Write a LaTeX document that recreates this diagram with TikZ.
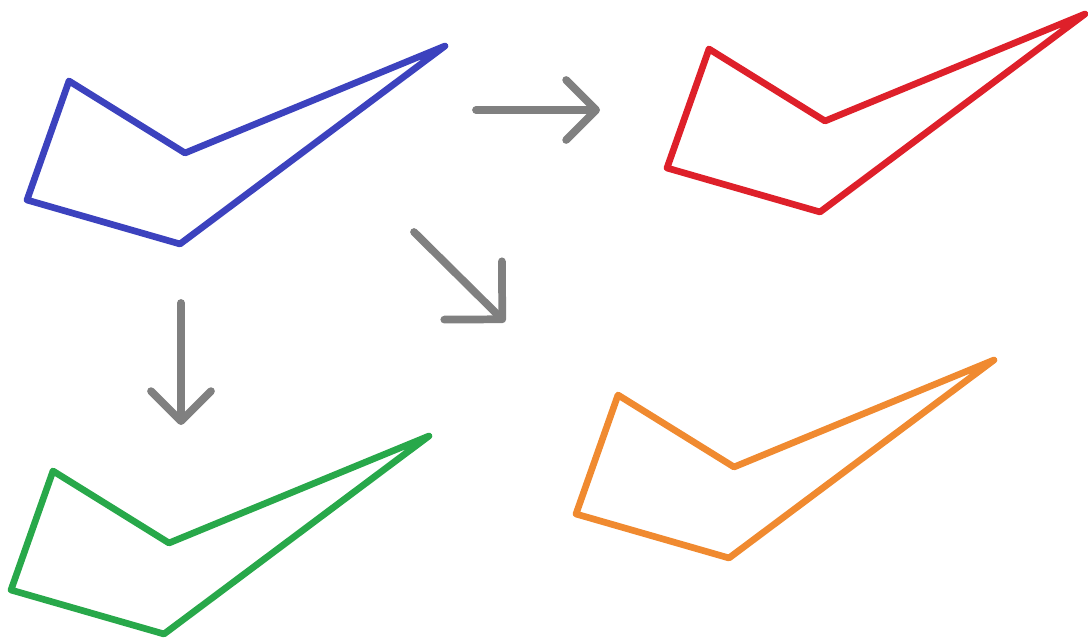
\documentclass[tikz,border=0pt]{standalone}
\usetikzlibrary{arrows.meta}
\definecolor{polyblue}{RGB}{60,66,190}
\definecolor{polyred}{RGB}{222,32,42}
\definecolor{polygreen}{RGB}{40,168,74}
\definecolor{polyorange}{RGB}{240,138,48}
\definecolor{movegray}{RGB}{128,128,128}
\tikzset{
  outline/.style={line width=3.8pt,line join=round,line cap=round},
  hook/.pic={\draw[outline,pic actions] (0,0) -- (116,72) -- (376,-35) -- (111,163) -- (-42,119) -- cycle;},
  move/.style={draw=movegray,line width=4.4pt,line cap=round,
    -{Straight Barb[length=0.6cm,width=1.2cm,round]}},
  bigmove/.style={move,-{Straight Barb[length=0.82cm,width=1.64cm,round]}}
}
\begin{document}
\begin{tikzpicture}[x=0.02cm,y=-0.02cm]
  \useasboundingbox (0,0) rectangle (1088,638);
  % the four copies
  \pic[draw=polyblue] at (69,81) {hook};
  \pic[draw=polyred] at (709,49) {hook};
  \pic[draw=polygreen] at (53,471) {hook};
  \pic[draw=polyorange] at (618,395) {hook};
  % moves
  \coordinate (r0) at (476,110);
  \coordinate (r1) at (600,110);
  \coordinate (d0) at (181,303);
  \coordinate (d1) at (181,425);
  \coordinate (s0) at (414,232);
  \coordinate (s1) at (505,322);
  \draw[move] (r0) -- (r1);
  \draw[move] (d0) -- (d1);
  \draw[bigmove] (s0) -- (s1);
\end{tikzpicture}
\end{document}
